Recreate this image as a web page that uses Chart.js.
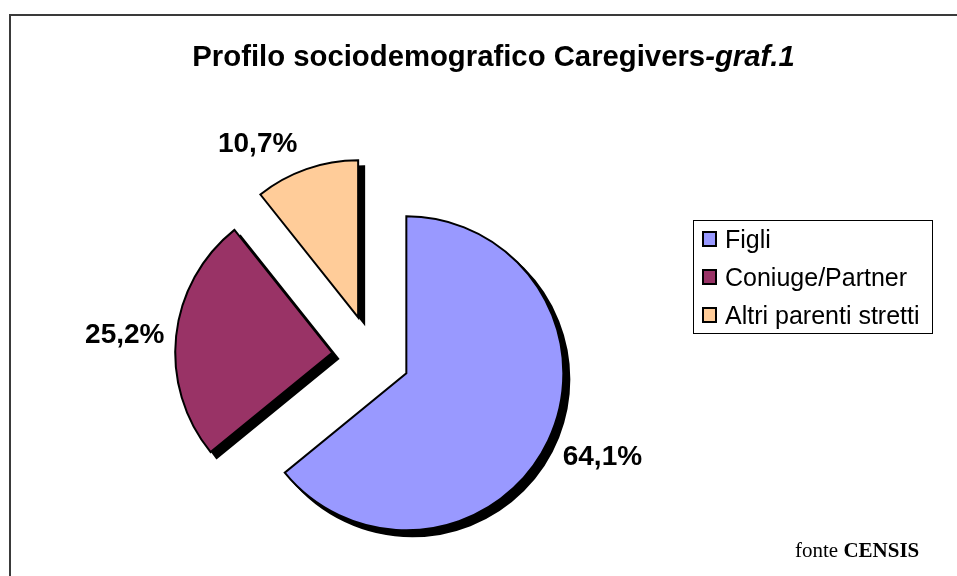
<!DOCTYPE html>
<html><head><meta charset="utf-8">
<script src="https://cdn.jsdelivr.net/npm/chart.js@4.4.1/dist/chart.umd.min.js"></script>
<style>html,body{margin:0;padding:0;background:#fff;} canvas{display:block;}</style>
</head><body>
<canvas id="c" width="957" height="576"></canvas>
<script>
// ---- data ----
const categories = ['Figli', 'Coniuge/Partner', 'Altri parenti stretti'];
const values = [64.1, 25.2, 10.7];
const sliceColors = ['#9999FF', '#993366', '#FFCC99'];
const titleMain = 'Profilo sociodemografico Caregivers';
const titleSuffix = '-graf.1';
const sourceLabel = 'fonte ';
const sourceName = 'CENSIS';

// ---- styling ----
const explode = [38, 40, 42];
const labelNudge = [[3, 3], [5, 0], [-30, -2]];
const SHADOW = 6;
const SANS = '"Liberation Sans", Arial, sans-serif';
const SERIF = '"Liberation Serif", "Times New Roman", serif';

function fmt(v) { return v.toFixed(1).replace('.', ',') + '%'; }

const explodePlugin = {
  id: 'explode',
  afterDatasetUpdate(chart, args) {
    args.meta.data.forEach((el, i) => {
      const mid = (el.startAngle + el.endAngle) / 2;
      el.x += Math.cos(mid) * explode[i];
      el.y += Math.sin(mid) * explode[i];
    });
  }
};

const framePlugin = {
  id: 'frame',
  beforeDraw(chart) {
    const ctx = chart.ctx;
    ctx.save();
    ctx.fillStyle = '#fff';
    ctx.fillRect(0, 0, chart.width, chart.height);
    ctx.strokeStyle = '#3a3a3a';
    ctx.lineWidth = 2;
    ctx.beginPath();
    ctx.moveTo(10, chart.height + 5);
    ctx.lineTo(10, 15);
    ctx.lineTo(chart.width + 5, 15);
    ctx.stroke();
    ctx.restore();
  }
};

const shadowPlugin = {
  id: 'shadow',
  beforeDatasetsDraw(chart) {
    const ctx = chart.ctx;
    const meta = chart.getDatasetMeta(0);
    ctx.save();
    ctx.fillStyle = '#000';
    ctx.strokeStyle = '#000';
    ctx.lineWidth = 2;
    ctx.lineJoin = 'miter';
    meta.data.forEach(el => {
      const x = el.x + SHADOW, y = el.y + SHADOW;
      ctx.beginPath();
      ctx.moveTo(x, y);
      ctx.arc(x, y, el.outerRadius, el.startAngle, el.endAngle);
      ctx.closePath();
      ctx.fill();
      ctx.stroke();
    });
    ctx.restore();
  }
};

const decorPlugin = {
  id: 'decor',
  afterDraw(chart) {
    const ctx = chart.ctx;
    ctx.save();
    ctx.fillStyle = '#000';
    ctx.textBaseline = 'alphabetic';

    // title
    const f1 = 'bold 29.3px ' + SANS, f2 = 'italic bold 29.3px ' + SANS;
    ctx.font = f1; const w1 = ctx.measureText(titleMain).width;
    ctx.font = f2; const w2 = ctx.measureText(titleSuffix).width;
    const tx = 493.5 - (w1 + w2) / 2;
    ctx.textAlign = 'left';
    ctx.font = f1; ctx.fillText(titleMain, tx, 66);
    ctx.font = f2; ctx.fillText(titleSuffix, tx + w1, 66);

    // data labels
    const meta = chart.getDatasetMeta(0);
    ctx.font = 'bold 28px ' + SANS;
    ctx.textAlign = 'center';
    const cap = 0.716 * 28;
    meta.data.forEach((el, i) => {
      const txt = fmt(values[i]);
      const hw = ctx.measureText(txt).width / 2;
      const mid = (el.startAngle + el.endAngle) / 2;
      const ux = Math.cos(mid), uy = Math.sin(mid);
      const d = el.outerRadius + 17;
      const cx = el.x + d * ux + ux * hw + labelNudge[i][0];
      const cy = el.y + d * uy + uy * cap / 2 + labelNudge[i][1];
      ctx.fillText(txt, cx, cy + cap / 2);
    });

    // legend
    ctx.strokeStyle = '#000';
    ctx.lineWidth = 1;
    ctx.strokeRect(693.5, 220.5, 239, 113);
    ctx.font = '25px ' + SANS;
    ctx.textAlign = 'left';
    const ds = chart.data.datasets[0];
    chart.data.labels.forEach((lab, i) => {
      const cy = 239 + i * 38;
      ctx.fillStyle = ds.backgroundColor[i];
      ctx.fillRect(703, cy - 7, 13, 14);
      ctx.lineWidth = 2;
      ctx.strokeStyle = '#000';
      ctx.strokeRect(703, cy - 7, 13, 14);
      ctx.fillStyle = '#000';
      ctx.fillText(lab, 725, cy + 0.716 * 25 / 2);
    });

    // source
    ctx.font = '21px ' + SERIF;
    const ws = ctx.measureText(sourceLabel).width;
    ctx.fillText(sourceLabel, 795, 557);
    ctx.font = 'bold 21px ' + SERIF;
    ctx.fillText(sourceName, 795 + ws, 557);
    ctx.restore();
  }
};

new Chart(document.getElementById('c'), {
  type: 'pie',
  data: {
    labels: categories,
    datasets: [{
      data: values,
      backgroundColor: sliceColors,
      borderColor: '#000',
      borderWidth: 2,
      borderJoinStyle: 'miter',
      radius: 157,
      offset: 0,
      hoverOffset: 0
    }]
  },
  options: {
    responsive: false,
    animation: false,
    events: [],
    layout: { padding: { left: 0, top: 138, right: 213, bottom: 0 } },
    plugins: { legend: { display: false }, tooltip: { enabled: false }, title: { display: false } }
  },
  plugins: [explodePlugin, framePlugin, shadowPlugin, decorPlugin]
});
</script>
</body></html>
